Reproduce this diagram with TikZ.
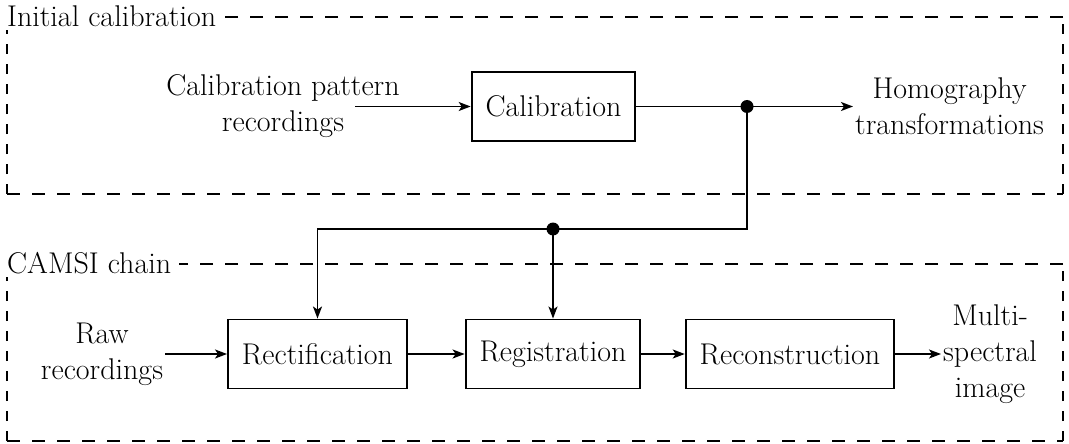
\documentclass[tikz,border=0pt]{standalone}
\usetikzlibrary{arrows.meta}
\begin{document}
\begin{tikzpicture}[x=1pt,y=-1pt,
  every node/.style={font=\fontsize{30}{36}\selectfont},
  block/.style={draw,line width=1.9pt,minimum height=69pt,inner xsep=14pt,inner ysep=0pt},
  lbl/.style={align=center,inner sep=2pt},
  conn/.style={line width=1.7pt},
  arr/.style={conn,-{Stealth[length=12pt,width=9pt,inset=3pt]}},
  hdash/.style={line width=1.8pt,dash pattern=on 13pt off 12pt},
  vdash/.style={line width=1.8pt,dash pattern=on 10pt off 10pt},
  grouplabel/.style={fill=white,anchor=west,inner xsep=8pt,inner ysep=3pt},
  junction/.style={circle,fill,inner sep=0pt,minimum size=13pt}]

\useasboundingbox (0,0) rectangle (1069,444);

% group frames
\draw[vdash] (7,194) -- (7,17);
\draw[hdash] (7,194) -- (1063,194);
\draw[vdash] (1063,194) -- (1063,17);
\draw[hdash] (1063,17) -- (7,17);

\draw[vdash] (7,441) -- (7,264);
\draw[hdash] (7,441) -- (1063,441);
\draw[vdash] (1063,441) -- (1063,264);
\draw[hdash] (1063,264) -- (7,264);

\node[grouplabel] (g1) at (-1,16.5) {Initial calibration};
\node[grouplabel] (g2) at (-1,263.5) {CAMSI chain};

% top chain
\node[block] (cal) at (553.5,106.5) {Calibration};
\node[lbl] (cpr) at (283,106.5) {Calibration pattern\\recordings};
\coordinate (cin) at (355,106.5);
\node[lbl,anchor=west] (hom) at (853,106.5) {Homography\\transformations};
\node[junction] (j1) at (747,106.5) {};

% bottom chain
\node[block] (rect) at (317.5,354) {Rectification};
\node[block] (reg) at (553,354) {Registration};
\node[block] (rec) at (790,354) {Reconstruction};
\node[lbl] (raw) at (102,354) {Raw\\recordings};
\node[lbl,anchor=west] (msi) at (941,354) {Multi-\\spectral\\image};
\node[junction] (j2) at (553,229) {};

% connectors
\draw[arr] (cin) -- (cal.west);
\draw[conn] (cal.east) -- (j1.center);
\draw[arr] (j1.center) -- (hom.west);
\draw[conn] (j1.center) |- (j2.center);
\draw[arr] (j2.center) -| (rect.north);
\draw[arr] (j2.center) -- (reg.north);

\draw[arr] (raw.east) -- (rect.west);
\draw[arr] (rect.east) -- (reg.west);
\draw[arr] (reg.east) -- (rec.west);
\draw[arr] (rec.east) -- (msi.west);
\end{tikzpicture}
\end{document}
